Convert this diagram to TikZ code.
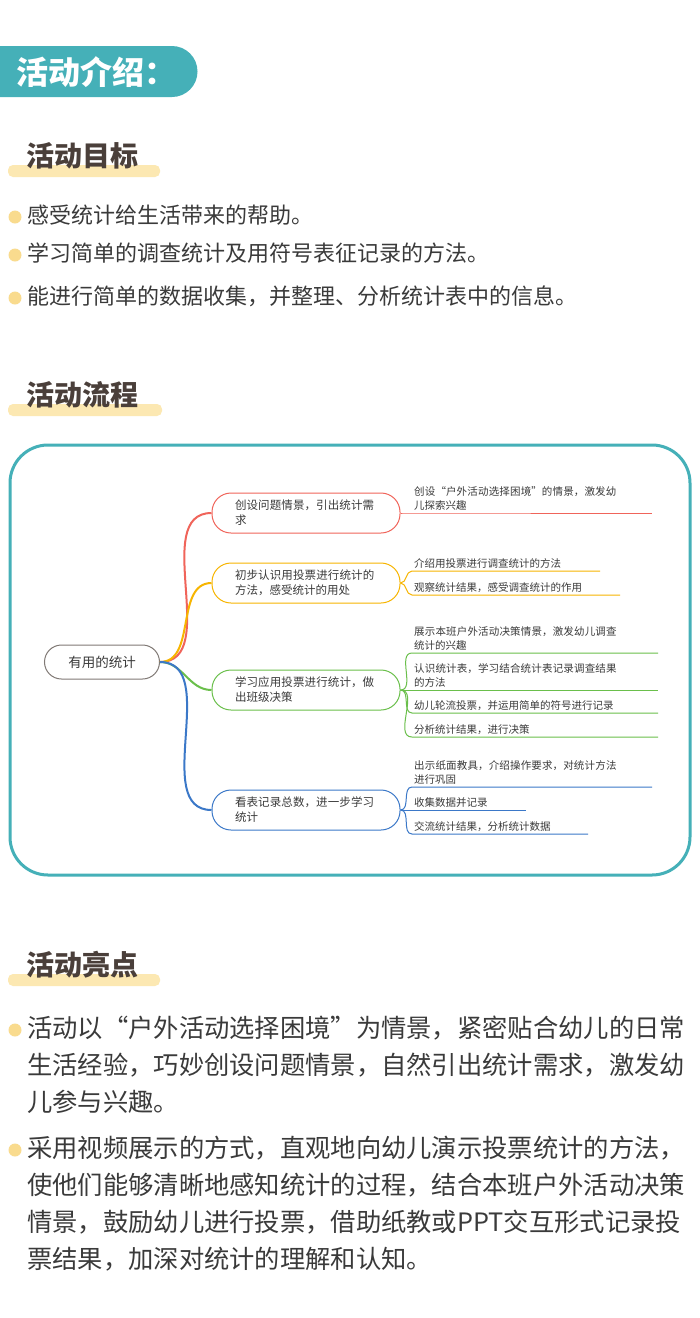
\documentclass[tikz,border=0pt]{standalone}
\usepackage{fontspec}
\setmainfont{Noto Sans CJK SC}
\XeTeXlinebreaklocale "zh"
\XeTeXlinebreakskip = 0pt plus 1pt
\usetikzlibrary{positioning}
\definecolor{teal1}{HTML}{45B0B8}
\definecolor{barY}{HTML}{FCE8B2}
\definecolor{dotY}{HTML}{F9DB8E}
\definecolor{ink}{HTML}{3A3A3A}
\definecolor{headc}{HTML}{4A3F3A}
\definecolor{cR}{HTML}{F0645A}
\definecolor{cO}{HTML}{F7B500}
\definecolor{cG}{HTML}{6ABF4B}
\definecolor{cB}{HTML}{3B78C8}
\tikzset{
  head/.style={anchor=west, text=headc, font=\fontsize{28}{32}\selectfont\bfseries, inner sep=0},
  bar/.style={fill=barY, rounded corners=5pt},
  dot/.style={circle, fill=dotY, inner sep=0, minimum size=13pt},
  txt/.style={anchor=west, text=ink, font=\fontsize{22}{26}\selectfont, inner sep=0},
  bigtxt/.style={anchor=west, text=ink, font=\fontsize{25.3}{29}\selectfont, inner sep=0},
  branch/.style={draw=#1, line width=1pt, rounded corners=19pt, minimum width=188pt, minimum height=40pt,
    text width=142pt, align=left, font=\fontsize{11.5}{15}\selectfont, text=ink},
  leaf/.style={anchor=south west, inner sep=2pt, text width=206pt, align=left,
    font=\fontsize{10.5}{14}\selectfont, text=ink},
  link/.style={draw=#1, line width=2pt},
  twig/.style={draw=#1, line width=1pt}
}
\begin{document}
\begin{tikzpicture}[x=1pt,y=-1pt]
  \useasboundingbox (0,0) rectangle (700,1318);
  \fill[white] (0,0) rectangle (700,1318);

  % Banner
  \fill[teal1] (0,46) -- (172,46) arc[start angle=-90, end angle=90, radius=25.5] -- (0,97) -- cycle;
  \node[anchor=west, text=white, font=\fontsize{32}{36}\selectfont\bfseries, inner sep=0] (intro) at (16,72) {活动介绍：};

  % Goals
  \fill[bar] (8,165) rectangle (160,177);
  \node[head] (goal) at (26,156) {活动目标};
  \foreach \yy/\tt in {215/感受统计给生活带来的帮助。,
                       253/学习简单的调查统计及用符号表征记录的方法。,
                       296/能进行简单的数据收集，并整理、分析统计表中的信息。}{
    \node[dot] at (15,\yy+2) {};
    \node[txt] at (27,\yy) {\tt};
  }

  % Process
  \fill[bar] (8,404) rectangle (162,416);
  \node[head] (proc) at (26,395) {活动流程};
  \draw[teal1, line width=3pt, rounded corners=38pt] (10,445) rectangle (690,875);

  % Mind map
  \node[draw=headc!70, line width=1pt, rounded corners=17pt, minimum width=115pt, minimum height=34pt,
        font=\fontsize{13.5}{16}\selectfont, text=ink] (root) at (102,662) {有用的统计};
  \node[branch=cR] (b1) at (306,513) {创设问题情景，引出统计需求};
  \node[branch=cO] (b2) at (306,583) {初步认识用投票进行统计的方法，感受统计的用处};
  \node[branch=cG] (b3) at (306,690) {学习应用投票进行统计，做出班级决策};
  \node[branch=cB] (b4) at (306,810) {看表记录总数，进一步学习统计};
  \foreach \b/\c in {b1/cR,b2/cO,b3/cG,b4/cB}
    \draw[link=\c] (root.east) to[out=0,in=180] (\b.west);

  \node[leaf] (l1) at (412,513) {创设“户外活动选择困境”的情景，激发幼儿探索兴趣};
  \node[leaf] (l2) at (412,571) {介绍用投票进行调查统计的方法};
  \node[leaf] (l3) at (412,595) {观察统计结果，感受调查统计的作用};
  \node[leaf] (l4) at (412,653) {展示本班户外活动决策情景，激发幼儿调查统计的兴趣};
  \node[leaf] (l5) at (412,690) {认识统计表，学习结合统计表记录调查结果的方法};
  \node[leaf] (l6) at (412,713) {幼儿轮流投票，并运用简单的符号进行记录};
  \node[leaf] (l7) at (412,737) {分析统计结果，进行决策};
  \node[leaf] (l8) at (412,787) {出示纸面教具，介绍操作要求，对统计方法进行巩固};
  \node[leaf] (l9) at (412,810) {收集数据并记录};
  \node[leaf] (l10) at (412,834) {交流统计结果，分析统计数据};
  \foreach \b/\l/\c/\len in {b1/l1/cR/240,b2/l2/cO/188,b2/l3/cO/208,b3/l4/cG/246,b3/l5/cG/246,
                             b3/l6/cG/246,b3/l7/cG/246,b4/l8/cB/240,b4/l9/cB/114,b4/l10/cB/176}
    \draw[twig=\c] (\b.east) to[out=0,in=180] (\l.south west) -- ++(\len,0);

  % Highlights
  \fill[bar] (8,974) rectangle (160,986);
  \node[head] (high) at (26,965) {活动亮点};
  \node[dot] at (15,1030) {};
  \node[dot] at (15,1150) {};
  \foreach \yy/\tt in {1028/活动以“户外活动选择困境”为情景，紧密贴合幼儿的日常,
                       1065/生活经验，巧妙创设问题情景，自然引出统计需求，激发幼,
                       1102/儿参与兴趣。,
                       1148/采用视频展示的方式，直观地向幼儿演示投票统计的方法，,
                       1185/使他们能够清晰地感知统计的过程，结合本班户外活动决策,
                       1222/情景，鼓励幼儿进行投票，借助纸教或PPT交互形式记录投,
                       1259/票结果，加深对统计的理解和认知。}
    \node[bigtxt] at (27,\yy) {\tt};
\end{tikzpicture}
\end{document}
